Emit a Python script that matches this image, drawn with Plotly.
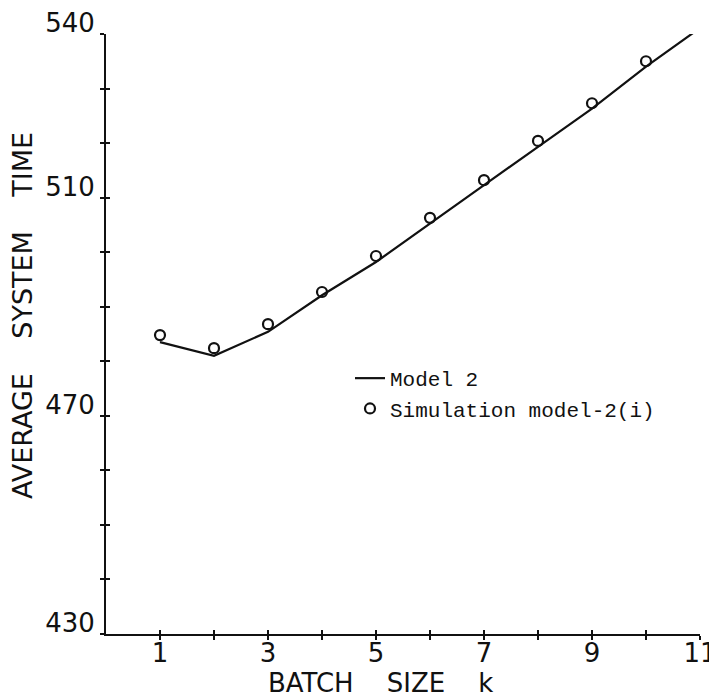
import plotly.graph_objects as go

# ---- data ----
batch_k = [1, 2, 3, 4, 5, 6, 7, 8, 9, 10, 11]
model2 = [483.5, 481.0, 485.4, 492.1, 498.2, 505.3, 512.3, 519.3, 526.3, 534.0, 541.1]
simulation = [484.8, 482.4, 486.8, 492.7, 499.3, 506.3, 513.2, 520.4, 527.3, 535.0, 542.0]

x_tickvals = list(range(1, 12))
x_ticktext = ["1", "", "3", "", "5", "", "7", "", "9", "", "11"]
y_tickvals = list(range(430, 541, 10))
y_ticktext = ["430", "", "", "", "470", "", "", "", "510", "", "", "540"]

x_range = [0, 11]
y_range = [430, 540]

BLACK = "#111111"
SANS = "DejaVu Sans"
MONO = "Liberation Mono"
NB = "\u00a0"

# the page has an 8px body margin: the figure origin sits at (8, 8) of the page
OFF = 8
W_PAGE, H_PAGE = 717, 698
plot_l, plot_r, plot_t, plot_b = 106, 700, 34, 634   # plot area in page pixels


def px_to_paper(px, py):
    return (px - plot_l) / (plot_r - plot_l), 1 - (py - plot_t) / (plot_b - plot_t)


fig = go.Figure()

fig.add_trace(go.Scatter(
    x=batch_k, y=model2, mode="lines", name="Model 2",
    line=dict(color=BLACK, width=2.2), cliponaxis=False,
))
fig.add_trace(go.Scatter(
    x=batch_k, y=simulation, mode="markers", name="Simulation model-2(i)",
    marker=dict(symbol="circle-open", size=10, color=BLACK, line=dict(width=2.2, color=BLACK)),
    cliponaxis=False,
))
# invisible trace for overlay axes (inside half of the crossing ticks)
fig.add_trace(go.Scatter(x=[x_range[0]], y=[y_range[0]], xaxis="x2", yaxis="y2",
                         mode="markers", marker=dict(opacity=0), showlegend=False, hoverinfo="skip"))

xt, yt = px_to_paper(380, 683)
xy, yy = px_to_paper(22, 316)
lx, ly = px_to_paper(350, 358)

fig_w, fig_h = W_PAGE - OFF, H_PAGE - OFF
fig.update_layout(
    width=fig_w, height=fig_h,
    margin=dict(l=plot_l - OFF, r=fig_w - (plot_r - OFF), t=plot_t - OFF, b=fig_h - (plot_b - OFF),
                autoexpand=False),
    paper_bgcolor="white", plot_bgcolor="white",
    showlegend=True,
    legend=dict(
        x=lx, y=ly, xanchor="left", yanchor="top",
        font=dict(family=MONO, size=21, color=BLACK),
        bgcolor="rgba(0,0,0,0)", itemwidth=30, tracegroupgap=0,
    ),
    xaxis=dict(
        range=x_range, tickvals=x_tickvals, ticktext=x_ticktext,
        ticks="outside", ticklen=4, tickwidth=1.5, tickcolor=BLACK,
        showline=True, linecolor=BLACK, linewidth=2, showgrid=False, zeroline=False,
        tickfont=dict(family=SANS, size=26, color=BLACK),
        automargin=False, ticklabeloverflow="allow", ticklabelstandoff=-9,
    ),
    yaxis=dict(
        range=y_range, tickvals=y_tickvals, ticktext=y_ticktext,
        ticks="outside", ticklen=4, tickwidth=1.5, tickcolor=BLACK,
        showline=True, linecolor=BLACK, linewidth=2, showgrid=False, zeroline=False,
        tickfont=dict(family=SANS, size=26, color=BLACK),
        ticklabelshift=-11, automargin=False, ticklabeloverflow="allow",
    ),
    xaxis2=dict(
        range=x_range, overlaying="x", tickvals=x_tickvals, showticklabels=False,
        ticks="inside", ticklen=4, tickwidth=1.5, tickcolor=BLACK,
        showline=False, showgrid=False, zeroline=False,
    ),
    yaxis2=dict(
        range=y_range, overlaying="y", tickvals=y_tickvals, showticklabels=False,
        ticks="inside", ticklen=4, tickwidth=1.5, tickcolor=BLACK,
        showline=False, showgrid=False, zeroline=False,
    ),
    annotations=[
        dict(text="BATCH" + NB * 4 + "SIZE" + NB * 4 + "k", x=xt, y=yt, xref="paper", yref="paper",
             xanchor="center", yanchor="middle",
             showarrow=False, font=dict(family=SANS, size=26, color=BLACK)),
        dict(text="AVERAGE" + NB * 4 + "SYSTEM" + NB * 4 + "TIME", x=xy, y=yy, xref="paper", yref="paper",
             xanchor="center", yanchor="middle",
             textangle=-90, showarrow=False, font=dict(family=SANS, size=27, color=BLACK)),
    ],
)

fig.write_html("out.html")
